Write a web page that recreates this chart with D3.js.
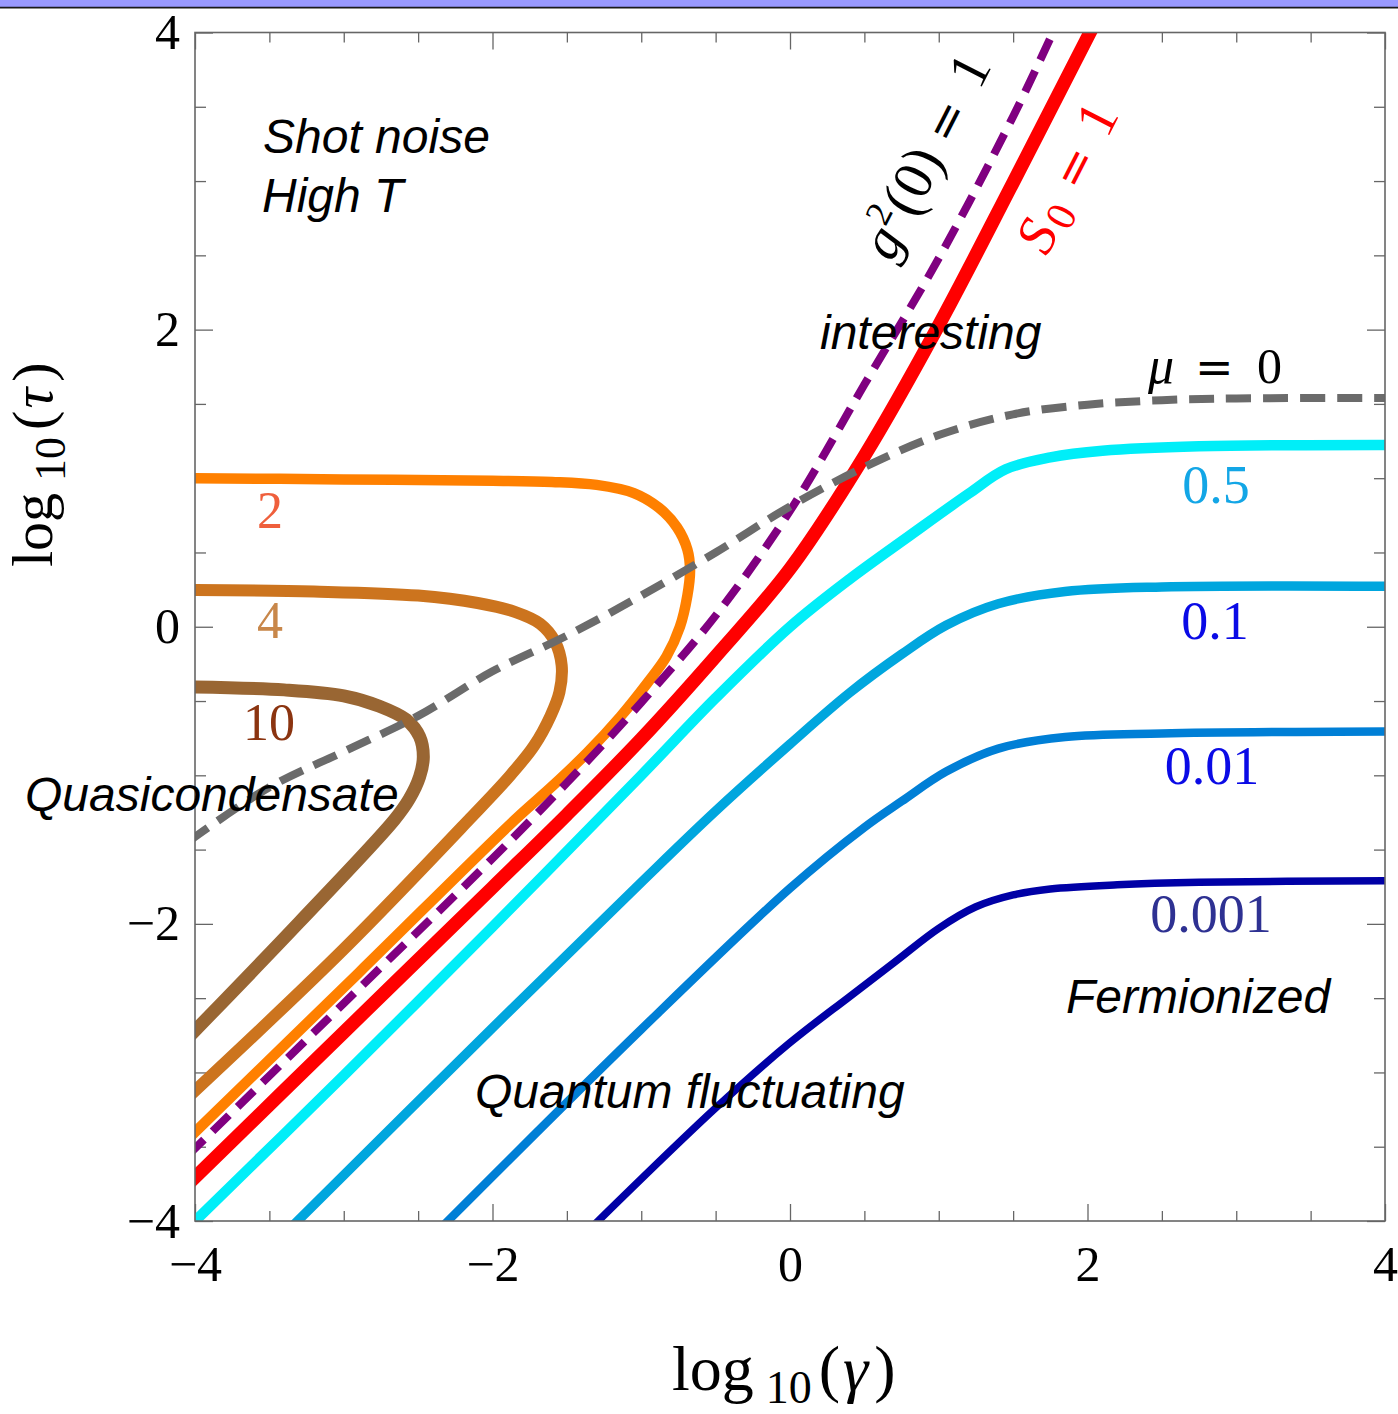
<!DOCTYPE html>
<html>
<head>
<meta charset="utf-8">
<script src="https://cdn.jsdelivr.net/npm/d3@7"></script>
<style>
  html, body { margin: 0; padding: 0; background: #fff; }
  svg { display: block; }
</style>
</head>
<body>
<svg id="chart" width="1398" height="1414"></svg>
<script>
// ---- data: each curve is a list of [log10(gamma), log10(tau)] points ----
const majorTicks = [-4, -2, 0, 2, 4];
const minorTicks = [-3.5, -3, -2.5, -1.5, -1, -0.5, 0.5, 1, 1.5, 2.5, 3, 3.5];

// S0 = 1 (red, solid)
const curveS0 = [[-4.05,-3.755],[-3.0,-2.73],[-2.0,-1.755],[-1.5,-1.265],[-1.0,-0.755],[-0.5,-0.20],
  [0.0,0.39],[0.5,1.15],[1.0,2.03],[1.5,2.99],[2.017,4.0],[2.06,4.08]];

// g2(0) = 1 (purple, dashed)
const curveG2 = [[-4.05,-3.56],[-3.0,-2.535],[-2.0,-1.56],[-1.5,-1.05],[-1.0,-0.51],[-0.5,0.075],
  [0.0,0.78],[0.5,1.63],[1.0,2.48],[1.5,3.435],[1.768,4.0],[1.80,4.07]];

// mu = 0 (gray, dashed)
const curveMu0 = [[-4.05,-1.45],[-3.5,-1.08],[-3.0,-0.84],[-2.5,-0.60],[-2.0,-0.30],[-1.5,-0.06],[-1.0,0.21],
  [-0.5,0.50],[0.0,0.81],[0.5,1.075],[1.0,1.29],[1.5,1.43],[2.0,1.495],[2.5,1.525],[3.0,1.537],[4.05,1.54]];

// constant-fugacity contours (blue family)
const curveF05 = [[-4.02,-4.02],[-3.0,-3.02],[-2.0,-2.02],[-1.0,-1.0],[-0.5,-0.48],
  [0.0,0.0],[0.4,0.32],[0.8,0.61],[1.2,0.895],[1.45,1.06],[1.75,1.14],[2.1,1.185],[2.75,1.215],[4.05,1.224]];
const curveF01 = [[-3.33,-4.02],[-2.0,-2.70],[-1.0,-1.72],[-0.5,-1.24],[0.0,-0.79],[0.4,-0.445],
  [0.75,-0.185],[1.05,0.01],[1.4,0.155],[1.85,0.237],[2.5,0.268],[4.05,0.273]];
const curveF001 = [[-2.32,-4.02],[-1.0,-2.71],[0.0,-1.76],[0.5,-1.35],[0.75,-1.175],[1.05,-0.975],
  [1.4,-0.82],[1.85,-0.742],[2.5,-0.718],[4.05,-0.705]];
const curveF0001 = [[-1.31,-4.02],[-0.5,-3.24],[0.0,-2.80],[0.4,-2.49],[0.7,-2.26],[1.0,-2.03],
  [1.25,-1.885],[1.5,-1.805],[1.75,-1.765],[2.2,-1.737],[2.75,-1.72],[4.05,-1.709]];

// degeneracy contours (orange / brown family)
const curveD2 = [[-4.05,1.0],[-3.0,0.992],[-2.0,0.983],[-1.6,0.975],[-1.3,0.955],[-1.05,0.90],[-0.88,0.80],
  [-0.76,0.67],[-0.69,0.52],[-0.672,0.38],[-0.69,0.21],[-0.74,0.0],[-0.83,-0.2],[-0.96,-0.38],[-1.14,-0.605],
  [-1.365,-0.85],[-1.6,-1.075],[-1.85,-1.3],[-2.9,-2.33],[-4.05,-3.45]];
const curveD4 = [[-4.05,0.247],[-3.2,0.237],[-2.5,0.21],[-2.1,0.16],[-1.85,0.10],[-1.68,0.02],[-1.58,-0.10],
  [-1.535,-0.26],[-1.55,-0.44],[-1.61,-0.60],[-1.72,-0.80],[-1.88,-1.0],[-2.15,-1.29],[-3.0,-2.17],[-4.05,-3.17]];
const curveD10 = [[-4.05,-0.404],[-3.4,-0.425],[-3.0,-0.465],[-2.76,-0.535],[-2.58,-0.625],[-2.49,-0.74],
  [-2.465,-0.875],[-2.49,-1.01],[-2.56,-1.16],[-2.66,-1.30],[-3.3,-1.99],[-4.05,-2.77]];

// ---- layout ----
const svg = d3.select("#chart");
const serif = "'Liberation Serif', 'Times New Roman', serif";
const sans = "'Liberation Sans', Arial, sans-serif";

const x = d3.scaleLinear().domain([-4, 4]).range([195, 1385]);
const y = d3.scaleLinear().domain([-4, 4]).range([1221, 32.5]);

// window strip across the top edge
svg.append("rect").attr("x", 0).attr("y", 0).attr("width", 1398).attr("height", 7).attr("fill", "#9999ff");
svg.append("line").attr("x1", 0).attr("x2", 1398).attr("y1", 7.6).attr("y2", 7.6)
  .attr("stroke", "#1a1a1a").attr("stroke-width", 1.6);

svg.append("defs").append("clipPath").attr("id", "plotClip")
  .append("rect").attr("x", x(-4)).attr("y", y(4)).attr("width", x(4) - x(-4)).attr("height", y(-4) - y(4));

const fmt = d => d < 0 ? "\u2212" + Math.abs(d) : String(d);
const axisColor = "#666";

function styleAxis(g) {
  g.select(".domain").remove();
  g.selectAll(".tick line").attr("stroke", axisColor).attr("stroke-width", 1.3);
  g.selectAll("text").attr("font-family", serif).attr("font-size", 50).attr("fill", "#000");
}

const H = y(-4) - y(4), W = x(4) - x(-4);
// bottom / left with labels
svg.append("g").attr("transform", `translate(0,${y(-4)})`)
  .call(d3.axisBottom(x).tickValues(majorTicks).tickSize(-17).tickPadding(24).tickFormat(fmt)).call(styleAxis);
svg.append("g").attr("transform", `translate(0,${y(-4)})`)
  .call(d3.axisBottom(x).tickValues(minorTicks).tickSize(-10).tickFormat("")).call(styleAxis);
svg.append("g").attr("transform", `translate(${x(-4)},0)`)
  .call(d3.axisLeft(y).tickValues(majorTicks).tickSize(-18).tickPadding(15).tickFormat(fmt)).call(styleAxis);
svg.append("g").attr("transform", `translate(${x(-4)},0)`)
  .call(d3.axisLeft(y).tickValues(minorTicks).tickSize(-11).tickFormat("")).call(styleAxis);
// top / right, ticks only
svg.append("g").attr("transform", `translate(0,${y(4)})`)
  .call(d3.axisTop(x).tickValues(majorTicks).tickSize(-17).tickFormat("")).call(styleAxis);
svg.append("g").attr("transform", `translate(0,${y(4)})`)
  .call(d3.axisTop(x).tickValues(minorTicks).tickSize(-10).tickFormat("")).call(styleAxis);
svg.append("g").attr("transform", `translate(${x(4)},0)`)
  .call(d3.axisRight(y).tickValues(majorTicks).tickSize(-18).tickFormat("")).call(styleAxis);
svg.append("g").attr("transform", `translate(${x(4)},0)`)
  .call(d3.axisRight(y).tickValues(minorTicks).tickSize(-11).tickFormat("")).call(styleAxis);

// ---- curves ----
const line = d3.line().x(d => x(d[0])).y(d => y(d[1])).curve(d3.curveCatmullRom.alpha(0.5));
const plot = svg.append("g").attr("clip-path", "url(#plotClip)");

const series = [
  { data: curveD2,    color: "#ff8000", width: 10.5 },
  { data: curveD4,    color: "#cc741e", width: 12 },
  { data: curveD10,   color: "#996633", width: 13 },
  { data: curveF05,   color: "#00eef8", width: 10.5 },
  { data: curveF01,   color: "#00a6de", width: 9.5 },
  { data: curveF001,  color: "#007fd6", width: 8.5 },
  { data: curveF0001, color: "#0000a6", width: 7.5 },
  { data: curveS0,    color: "#ff0000", width: 13.5 },
  { data: curveG2,    color: "#800080", width: 8, dash: "23,12" },
  { data: curveMu0,   color: "#6b6b6b", width: 8, dash: "25,12" }
];
series.forEach(s => {
  plot.append("path").datum(s.data)
    .attr("d", line)
    .attr("fill", "none")
    .attr("stroke", s.color)
    .attr("stroke-width", s.width)
    .attr("stroke-linejoin", "round")
    .attr("stroke-linecap", s.dash ? "butt" : "round")
    .attr("stroke-dasharray", s.dash || null);
});

// frame
svg.append("rect").attr("x", x(-4)).attr("y", y(4)).attr("width", W).attr("height", H)
  .attr("fill", "none").attr("stroke", axisColor).attr("stroke-width", 1.6);

// ---- axis titles ----
const xt = svg.append("text").attr("x", 672).attr("y", 1390).attr("font-family", serif).attr("font-size", 64);
xt.append("tspan").text("log");
xt.append("tspan").attr("dx", 12).attr("dy", 13).attr("font-size", 46).text("10");
xt.append("tspan").attr("dx", 7).attr("dy", -13).text("(");
xt.append("tspan").attr("dx", 3).attr("font-style", "italic").text("\u03B3");
xt.append("tspan").attr("dx", 6).text(")");

const yt = svg.append("text").attr("transform", "translate(52,567) rotate(-90)")
  .attr("font-family", serif).attr("font-size", 58);
yt.append("tspan").text("log");
yt.append("tspan").attr("dx", 12).attr("dy", 13).attr("font-size", 44).text("10");
yt.append("tspan").attr("dx", 7).attr("dy", -13).text("(");
yt.append("tspan").attr("dx", 2).attr("font-style", "italic").text("\u03C4");
yt.append("tspan").attr("dx", 6).text(")");

// ---- region names ----
const regions = [
  { t: "Shot noise", x: 263, y: 153 },
  { t: "High T", x: 262, y: 212 },
  { t: "interesting", x: 820, y: 349 },
  { t: "Quasicondensate", x: 25, y: 811 },
  { t: "Fermionized", x: 1066, y: 1013 },
  { t: "Quantum fluctuating", x: 475, y: 1108 }
];
regions.forEach(r => svg.append("text").attr("x", r.x).attr("y", r.y)
  .attr("font-family", sans).attr("font-style", "italic").attr("font-size", 48).attr("fill", "#000").text(r.t));

// ---- contour value labels ----
const valueLabels = [
  { t: "2", x: 270, y: 528, c: "#ef5f3c", s: 52 },
  { t: "4", x: 270, y: 638, c: "#c8874a", s: 52 },
  { t: "10", x: 269, y: 740, c: "#8b3410", s: 52 },
  { t: "0.5", x: 1216, y: 503, c: "#13a6e6", s: 54 },
  { t: "0.1", x: 1215, y: 639, c: "#0a0ae6", s: 54 },
  { t: "0.01", x: 1212, y: 784, c: "#0a0ae6", s: 54 },
  { t: "0.001", x: 1211, y: 932, c: "#2e3192", s: 54 }
];
valueLabels.forEach(l => svg.append("text").attr("x", l.x).attr("y", l.y).attr("text-anchor", "middle")
  .attr("font-family", serif).attr("font-size", l.s).attr("fill", l.c).text(l.t));

// ---- math labels placed piece by piece ----
const eqFont = "'DejaVu Serif', serif";
function mathLabel(tx, ty, angle, color, pieces) {
  const g = svg.append("g").attr("transform", `translate(${tx},${ty}) rotate(${angle})`);
  pieces.forEach(p => g.append("text")
    .attr("x", p.x).attr("y", p.y || 0)
    .attr("font-family", p.f || serif)
    .attr("font-size", p.s)
    .attr("font-style", p.i ? "italic" : "normal")
    .attr("fill", color).text(p.t));
}

mathLabel(892, 263, -63, "#000", [
  { t: "g", x: 0, s: 56, i: true },
  { t: "2", x: 29, y: -22, s: 36 },
  { t: "(", x: 49, s: 58 },
  { t: "0", x: 69, s: 56 },
  { t: ")", x: 97, s: 58 },
  { t: "=", x: 131, s: 48, f: eqFont },
  { t: "1", x: 193, s: 56 }
]);

mathLabel(1047, 257, -63, "#ff0000", [
  { t: "S", x: 0, s: 56, i: true },
  { t: "0", x: 32, y: 8, s: 42 },
  { t: "=", x: 72, s: 48, f: eqFont },
  { t: "1", x: 132, s: 56 }
]);

mathLabel(1148, 383, 0, "#000", [
  { t: "\u03BC", x: 0, s: 52, i: true },
  { t: "=", x: 1195 - 1148, s: 46, f: eqFont },
  { t: "0", x: 1257 - 1148, s: 50 }
]);
</script>
</body>
</html>
